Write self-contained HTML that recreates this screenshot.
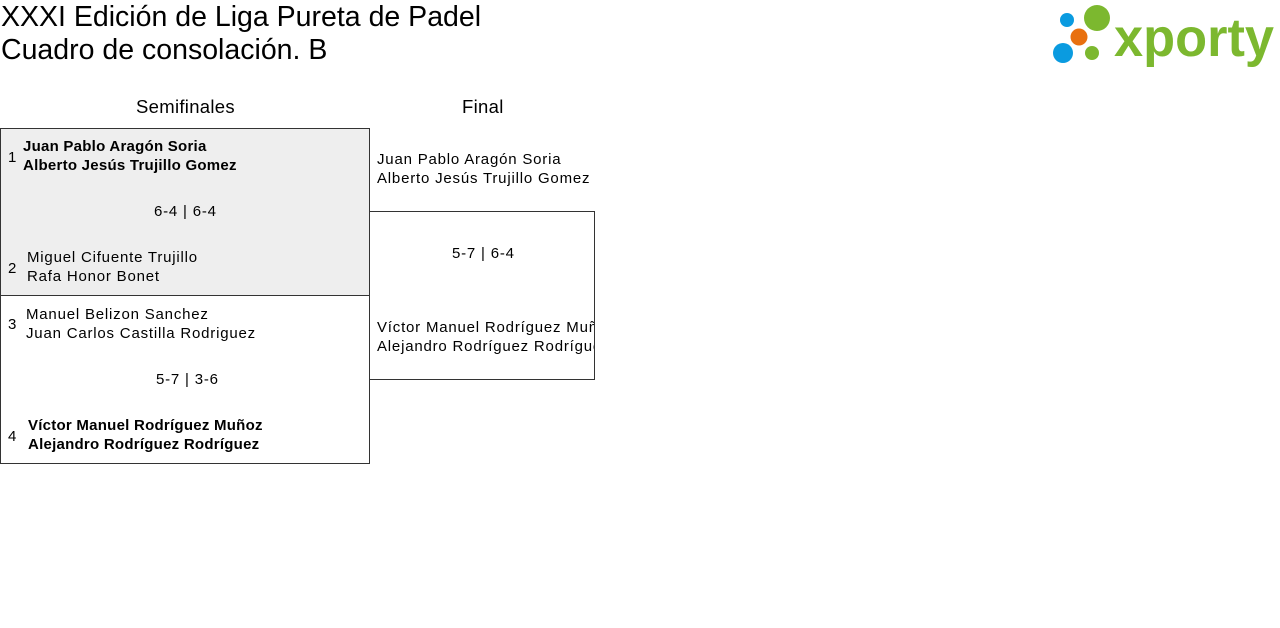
<!DOCTYPE html>
<html><head><meta charset="utf-8"><style>
body{margin:0;width:1280px;height:628px;background:#fff;font-family:"Liberation Sans",sans-serif;color:#000;position:relative;overflow:hidden}
.a{position:absolute;white-space:nowrap}
.t{font-size:28.5px;line-height:33px;left:1px}
.h{font-size:18.5px;top:96px;letter-spacing:0.3px}
.n{font-size:15px;line-height:19px;letter-spacing:0.8px}
.b{font-weight:bold;letter-spacing:0.25px}
.box{position:absolute;border:1px solid #333;box-sizing:border-box}
</style></head><body>
<div class="a t" style="top:1px">XXXI Edición de Liga Pureta de Padel</div>
<div class="a t" style="top:34px">Cuadro de consolación. B</div>
<svg class="a" style="left:1050px;top:3px" width="226" height="64" viewBox="0 0 226 64">
<circle cx="17" cy="17" r="7" fill="#0a9be0"/>
<circle cx="47" cy="15" r="13" fill="#7cb82f"/>
<circle cx="29" cy="34" r="8.5" fill="#e8700f"/>
<circle cx="13" cy="50" r="10" fill="#0a9be0"/>
<circle cx="42" cy="50" r="7" fill="#7cb82f"/>
<text x="64" y="53" font-family="Liberation Sans" font-weight="bold" font-size="54" fill="#7cb82f" textLength="160" lengthAdjust="spacingAndGlyphs">xporty</text>
</svg>
<div class="a h" style="left:136px">Semifinales</div>
<div class="a h" style="left:462px">Final</div>
<div class="box" style="left:0;top:128px;width:370px;height:168px;background:#eee"></div>
<div class="box" style="left:0;top:295px;width:370px;height:169px"></div>
<div class="box" style="left:369px;top:211px;width:226px;height:169px"></div>
<div class="a n" style="left:8px;top:148px">1</div>
<div class="a n b" style="left:23px;top:137px">Juan Pablo Aragón Soria<br>Alberto Jesús Trujillo Gomez</div>
<div class="a n" style="left:154px;top:202px">6-4 | 6-4</div>
<div class="a n" style="left:8px;top:259px">2</div>
<div class="a n" style="left:27px;top:248px">Miguel Cifuente Trujillo<br>Rafa Honor Bonet</div>
<div class="a n" style="left:8px;top:315px">3</div>
<div class="a n" style="left:26px;top:305px">Manuel Belizon Sanchez<br>Juan Carlos Castilla Rodriguez</div>
<div class="a n" style="left:156px;top:370px">5-7 | 3-6</div>
<div class="a n" style="left:8px;top:427px">4</div>
<div class="a n b" style="left:28px;top:416px">Víctor Manuel Rodríguez Muñoz<br>Alejandro Rodríguez Rodríguez</div>
<div class="a n" style="left:377px;top:150px">Juan Pablo Aragón Soria<br>Alberto Jesús Trujillo Gomez</div>
<div class="a n" style="left:452px;top:244px">5-7 | 6-4</div>
<div class="a n" style="left:377px;top:318px;width:217px;overflow:hidden">Víctor Manuel Rodríguez Muñoz<br>Alejandro Rodríguez Rodríguez</div>
</body></html>
